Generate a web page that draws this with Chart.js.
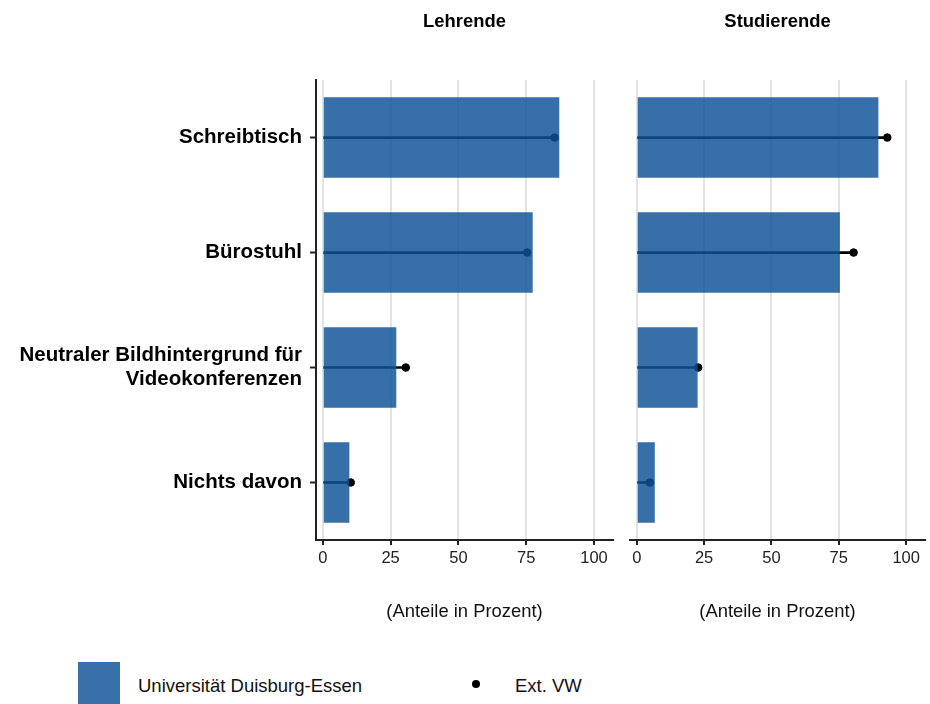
<!DOCTYPE html>
<html>
<head>
<meta charset="utf-8">
<script src="https://cdn.jsdelivr.net/npm/chart.js@4.4.1/dist/chart.umd.min.js"></script>
<style>
  body { margin: 0; background: #fff; font-family: 'Liberation Sans', Arial, sans-serif; }
  #wrap { position: relative; width: 930px; height: 704px; overflow: hidden; }
  canvas { position: absolute; top: 0; }
  #left { left: 0; }
  #right { left: 620px; }
  .key { position: absolute; }
  .txt { position: absolute; font-size: 18.5px; color: #111; line-height: 22px; }
</style>
</head>
<body>
<div id="wrap">
  <canvas id="left" width="620" height="640"></canvas>
  <canvas id="right" width="310" height="640"></canvas>
  <div class="key" style="left:78px; top:662px; width:42px; height:42px; background:#3870a8;"></div>
  <div class="txt" style="left:138px; top:675px;">Universität Duisburg-Essen</div>
  <div class="key" style="left:472px; top:680px; width:8px; height:8px; border-radius:50%; background:#000;"></div>
  <div class="txt" style="left:515px; top:675px;">Ext. VW</div>
</div>
<script>
// Kategorien und Werte (Anteile in Prozent)
const categories = ['Schreibtisch', 'Bürostuhl', ['Neutraler Bildhintergrund für', 'Videokonferenzen'], 'Nichts davon'];
const lehrendeUDE = [87.2, 77.4, 27.1, 9.8];
const lehrendeExt = [85.5, 75.4, 30.6, 10.3];
const studierendeUDE = [89.7, 75.4, 22.6, 6.7];
const studierendeExt = [93.0, 80.5, 22.8, 4.9];
const xTicks = [0, 25, 50, 75, 100];

Chart.defaults.font.family = "'Liberation Sans', Arial, sans-serif";
Chart.defaults.animation = false;

function makePanel(id, title, ude, ext, showLabels) {
    const ctx = document.getElementById(id).getContext('2d');

    const yScale = showLabels ? {
        type: 'category',
        grid: { display: true, drawOnChartArea: false, drawTicks: true, tickLength: 6, tickColor: '#222', tickWidth: 2, offset: false },
        border: { display: true, color: '#222', width: 2 },
        ticks: { font: { size: 20.5, weight: 'bold' }, color: '#000', padding: 8 },
        afterFit: (s) => { s.width = 316; }
    } : {
        type: 'category',
        display: false,
        grid: { offset: false }
    };

    return new Chart(ctx, {
        type: 'bar',
        data: {
            labels: categories,
            datasets: [
                {
                    // Balken UDE (halbtransparent, oben)
                    label: 'Universität Duisburg-Essen',
                    data: ude,
                    backgroundColor: 'rgba(15, 83, 150, 0.83)',
                    grouped: false,
                    categoryPercentage: 1,
                    barPercentage: 0.7,
                    order: 0
                },
                {
                    // Linie von 0 bis Ext. VW
                    label: 'Ext. VW Linie',
                    data: ext,
                    backgroundColor: '#000',
                    grouped: false,
                    barThickness: 2,
                    order: 2
                },
                {
                    type: 'scatter',
                    label: 'Ext. VW',
                    data: ext.map((v, i) => ({ x: v, y: i })),
                    backgroundColor: '#000',
                    borderColor: '#000',
                    pointRadius: 3.8,
                    order: 1
                }
            ]
        },
        options: {
            indexAxis: 'y',
            responsive: false,
            layout: { padding: showLabels ? { left: 0, right: 7, top: 0, bottom: 0 } : { left: 10, right: 4, top: 0, bottom: 0 } },
            plugins: {
                legend: { display: false },
                tooltip: { enabled: false },
                title: {
                    display: true,
                    text: title,
                    fullSize: false,
                    font: { size: 18.4, weight: 'bold' },
                    color: '#000',
                    padding: { top: 11, bottom: 47 }
                }
            },
            scales: {
                x: {
                    type: 'linear',
                    min: -2.5,
                    max: 107,
                    afterBuildTicks: (s) => { s.ticks = xTicks.map(v => ({ value: v })); },
                    grid: { color: '#e3e3e3', lineWidth: 2, tickColor: '#222', tickLength: 5, tickWidth: 2 },
                    border: { display: true, color: '#222', width: 2 },
                    ticks: { font: { size: 16.5 }, color: '#222', padding: 4 },
                    title: { display: true, text: '(Anteile in Prozent)', font: { size: 18.4 }, color: '#111', padding: { top: 0, bottom: 17 } },
                    afterFit: (s) => { s.height = 100; }
                },
                y: yScale
            }
        }
    });
}

makePanel('left', 'Lehrende', lehrendeUDE, lehrendeExt, true);
makePanel('right', 'Studierende', studierendeUDE, studierendeExt, false);
</script>
</body>
</html>
